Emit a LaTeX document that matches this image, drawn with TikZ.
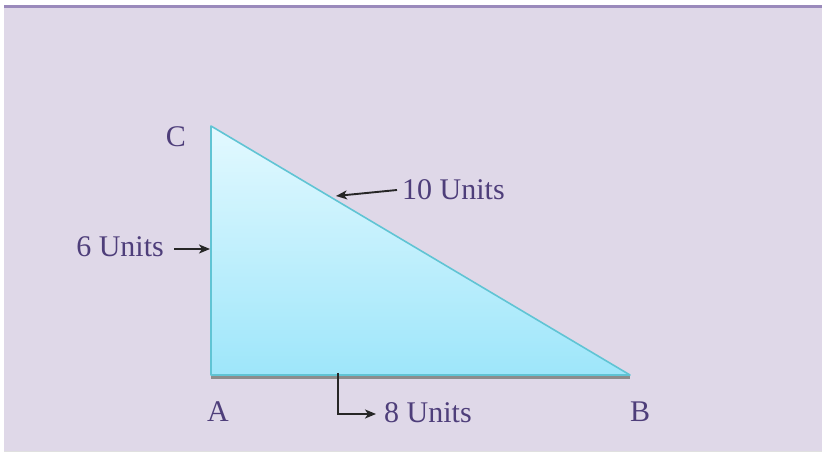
\documentclass[tikz,border=0pt]{standalone}
\usepackage{fontspec}
\setmainfont{Liberation Serif}
\usetikzlibrary{calc,arrows.meta}
\definecolor{panel}{RGB}{223,216,232}
\definecolor{panelrule}{RGB}{154,138,187}
\definecolor{labelink}{RGB}{78,62,122}
\definecolor{edgecyan}{RGB}{96,196,212}
\definecolor{filltop}{RGB}{227,249,255}
\definecolor{fillbottom}{RGB}{158,230,250}
\tikzset{
	vertex/.style={text=labelink, inner sep=0pt, font=\fontsize{30}{34}\selectfont},
	unitlabel/.style={text=labelink, inner sep=0pt, font=\fontsize{30}{34}\selectfont},
	pointer/.style={-{Stealth[length=11pt, width=9pt, inset=3pt]}, line width=1.9pt, black!85}
}
\begin{document}
\begin{tikzpicture}[x=1pt, y=1pt]
	\useasboundingbox (0, 0) rectangle (822, 452);
	% panel behind the figure
	\fill[white] (0, 0) rectangle (822, 452);
	\fill[panel] (4, 1) rectangle (822, 446);
	\draw[panelrule, line width=3pt] (4, 445.5) -- (822, 445.5);
	\draw[black!12, line width=0.8pt] (4, 1) -- (822, 1);
	% corners of the triangle
	\coordinate (A) at (211, 77);
	\coordinate (B) at (630, 77);
	\coordinate (C) at (211, 326);
	% shadow under the base, then the triangle itself
	\draw[black!45, line width=2.5pt] ([yshift=-2.5pt]A) -- ([yshift=-2.5pt]B);
	\shade[top color=filltop, bottom color=fillbottom] (A) -- (B) -- (C) -- cycle;
	\draw[edgecyan, line width=1.6pt, line join=round] (A) -- (B) -- (C) -- cycle;
	% corner names
	\node[vertex] (nameC) at (176, 315) {C};
	\node[vertex] (nameA) at (218, 40) {A};
	\node[vertex] (nameB) at (640, 40) {B};
	% side lengths with their pointers
	\node[unitlabel, anchor=west] (hyp) at (402, 262) {10 Units};
	\coordinate (hypEnd) at (336, 256);
	\draw[pointer] ([xshift=-5pt]hyp.west) -- (hypEnd);
	\node[unitlabel, anchor=east] (height) at (164, 205) {6 Units};
	\coordinate (heightEnd) at (210, 203);
	\draw[pointer] ([xshift=10pt, yshift=-2pt]height.east) -- (heightEnd);
	\node[unitlabel, anchor=west] (base) at (384, 39) {8 Units};
	\coordinate (baseStart) at (338, 79);
	\draw[pointer] (baseStart) |- ([xshift=-8pt, yshift=-1pt]base.west);
\end{tikzpicture}
\end{document}
